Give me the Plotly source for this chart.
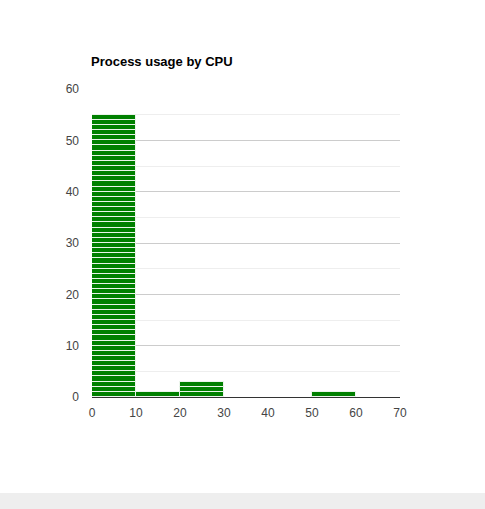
import plotly.graph_objects as go

bin_starts = [0, 10, 20, 30, 40, 50, 60]
bin_counts = [55, 1, 3, 0, 0, 1, 0]
bin_size = 10
title = "Process usage by CPU"
x_ticks = [0, 10, 20, 30, 40, 50, 60, 70]
y_ticks = [0, 10, 20, 30, 40, 50, 60]

xs, bases, ys = [], [], []
for s, c in zip(bin_starts, bin_counts):
    for k in range(c):
        xs.append(s + bin_size / 2)
        bases.append(k)
        ys.append(1)

fig = go.Figure(go.Bar(
    x=xs, y=ys, base=bases, width=bin_size,
    marker=dict(color="#008000", line=dict(color="rgba(255,255,255,0.85)", width=1)),
    hoverinfo="skip",
))

fig.update_layout(
    width=485, height=509,
    margin=dict(l=92, r=85, t=89, b=112),
    paper_bgcolor="white", plot_bgcolor="white",
    showlegend=False,
    font=dict(family="Liberation Sans, Arial", size=12, color="#444"),
    title=dict(text="<b>" + title + "</b>", x=91 / 485, xanchor="left",
               y=1 - 61 / 509, yanchor="middle",
               font=dict(size=13, color="#000", family="Liberation Sans, Arial")),
    bargap=0,
    shapes=[dict(type="rect", xref="paper", yref="paper",
                 x0=-92 / 308, x1=393 / 308, y0=-112 / 308, y1=-96 / 308,
                 fillcolor="#eeeeee", line=dict(width=0), layer="below")],
)
fig.update_xaxes(range=[0, 70], tickvals=x_ticks, showgrid=False, zeroline=False,
                 showline=True, linecolor="#333", linewidth=1, ticks="",
                 ticklabelstandoff=5,
                 tickfont=dict(color="#444", size=12))
fig.update_yaxes(range=[0, 60], tickvals=y_ticks, showgrid=True, gridcolor="#ccc",
                 gridwidth=1, zeroline=False, ticks="",
                 ticklabelstandoff=12,
                 minor=dict(dtick=5, showgrid=True, gridcolor="#eee", tick0=0),
                 tickfont=dict(color="#444", size=12))

fig.write_html("out.html", config={"displayModeBar": False},
               post_script="document.body.style.margin='0';document.body.style.overflow='hidden';")
